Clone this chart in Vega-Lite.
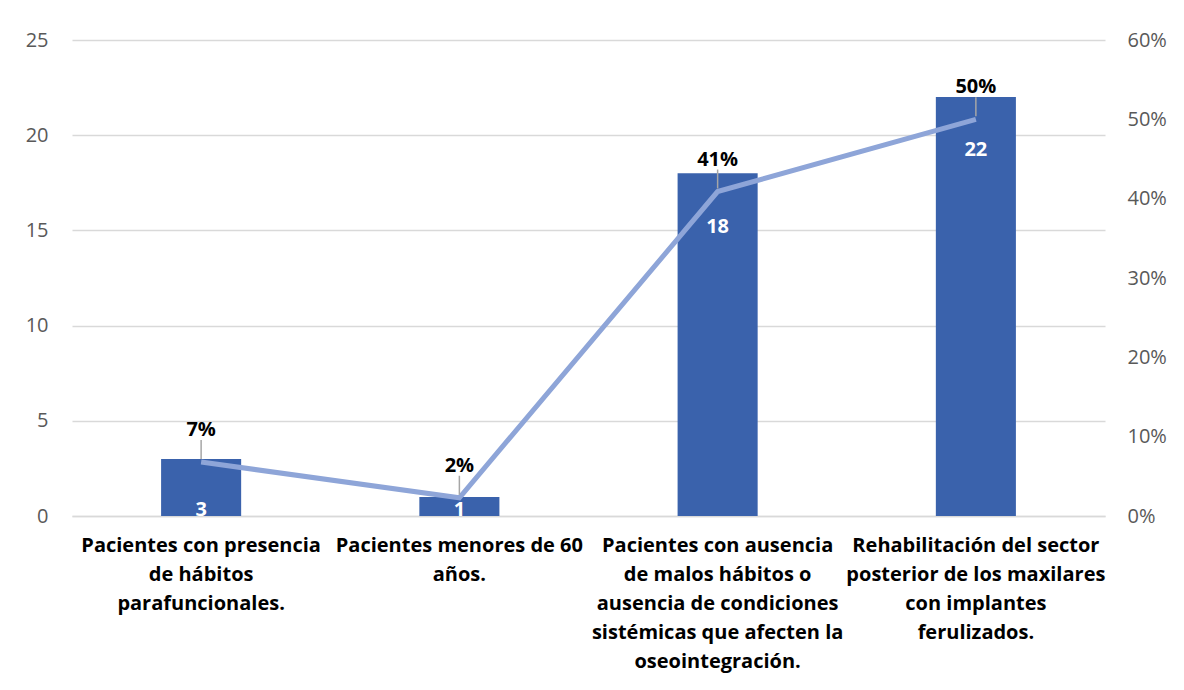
{
  "$schema": "https://vega.github.io/schema/vega-lite/v6.json",
  "width": 1033,
  "height": 476,
  "autosize": {"type": "none"},
  "padding": {"left": 72, "top": 40, "right": 79, "bottom": 174},
  "background": "white",
  "config": {
    "view": {"stroke": null},
    "font": "Open Sans",
    "axis": {"labelFont": "Open Sans", "labelColor": "#595959", "labelFontSize": 20}
  },
  "data": {
    "values": [
      {"cat": "Pacientes con presencia|de hábitos|parafuncionales.", "n": 3, "pct": 0.068},
      {"cat": "Pacientes menores de 60|años.", "n": 1, "pct": 0.023},
      {"cat": "Pacientes con ausencia|de malos hábitos o|ausencia de condiciones|sistémicas que afecten la|oseointegración.", "n": 18, "pct": 0.409},
      {"cat": "Rehabilitación del sector|posterior de los maxilares|con implantes|ferulizados.", "n": 22, "pct": 0.5}
    ]
  },
  "encoding": {
    "x": {
      "field": "cat",
      "type": "nominal",
      "sort": null,
      "scale": {"paddingInner": 0, "paddingOuter": 0},
      "axis": {
        "title": null,
        "labelAngle": 0,
        "labelExpr": "split(datum.label, '|')",
        "labelFontWeight": "bold",
        "labelFontSize": 20,
        "labelColor": "black",
        "labelLineHeight": 29,
        "labelPadding": 19,
        "labelLimit": 400,
        "domainColor": "#D9D9D9",
        "domainWidth": 1.5,
        "ticks": false
      }
    }
  },
  "layer": [
    {
      "mark": {"type": "bar", "width": {"band": 0.31}, "color": "#3A62AC"},
      "encoding": {
        "y": {
          "field": "n",
          "type": "quantitative",
          "scale": {"domain": [0, 25]},
          "axis": {
            "title": null,
            "orient": "left",
            "values": [0, 5, 10, 15, 20, 25],
            "grid": true,
            "gridColor": "#D9D9D9",
            "gridWidth": 1.5,
            "domain": false,
            "ticks": false,
            "labelPadding": 24
          }
        }
      }
    },
    {
      "transform": [{"calculate": "max(datum.n - 2.8, 0.3)", "as": "ny"}],
      "mark": {"type": "text", "color": "white", "fontWeight": "bold", "fontSize": 20, "baseline": "middle"},
      "encoding": {
        "y": {"field": "ny", "type": "quantitative", "scale": {"domain": [0, 25]}, "axis": null},
        "text": {"field": "n", "type": "quantitative"}
      }
    },
    {
      "mark": {"type": "line", "color": "#8EA5D8", "strokeWidth": 5},
      "encoding": {
        "y": {
          "field": "pct",
          "type": "quantitative",
          "scale": {"domain": [0, 0.6]},
          "axis": {
            "title": null,
            "orient": "right",
            "format": ".0%",
            "values": [0, 0.1, 0.2, 0.3, 0.4, 0.5, 0.6],
            "grid": false,
            "domain": false,
            "ticks": false,
            "labelPadding": 22
          }
        }
      }
    },
    {
      "mark": {"type": "rule", "color": "#A6A6A6", "strokeWidth": 1.5, "yOffset": -3, "y2Offset": -22},
      "encoding": {
        "y": {"field": "pct", "type": "quantitative", "scale": {"domain": [0, 0.6]}, "axis": null},
        "y2": {"field": "pct"}
      }
    },
    {
      "mark": {"type": "text", "color": "black", "fontWeight": "bold", "fontSize": 20, "baseline": "bottom", "dy": -22},
      "encoding": {
        "y": {"field": "pct", "type": "quantitative", "scale": {"domain": [0, 0.6]}, "axis": null},
        "text": {"field": "pct", "type": "quantitative", "format": ".0%"}
      }
    }
  ],
  "resolve": {"scale": {"y": "independent"}}
}
